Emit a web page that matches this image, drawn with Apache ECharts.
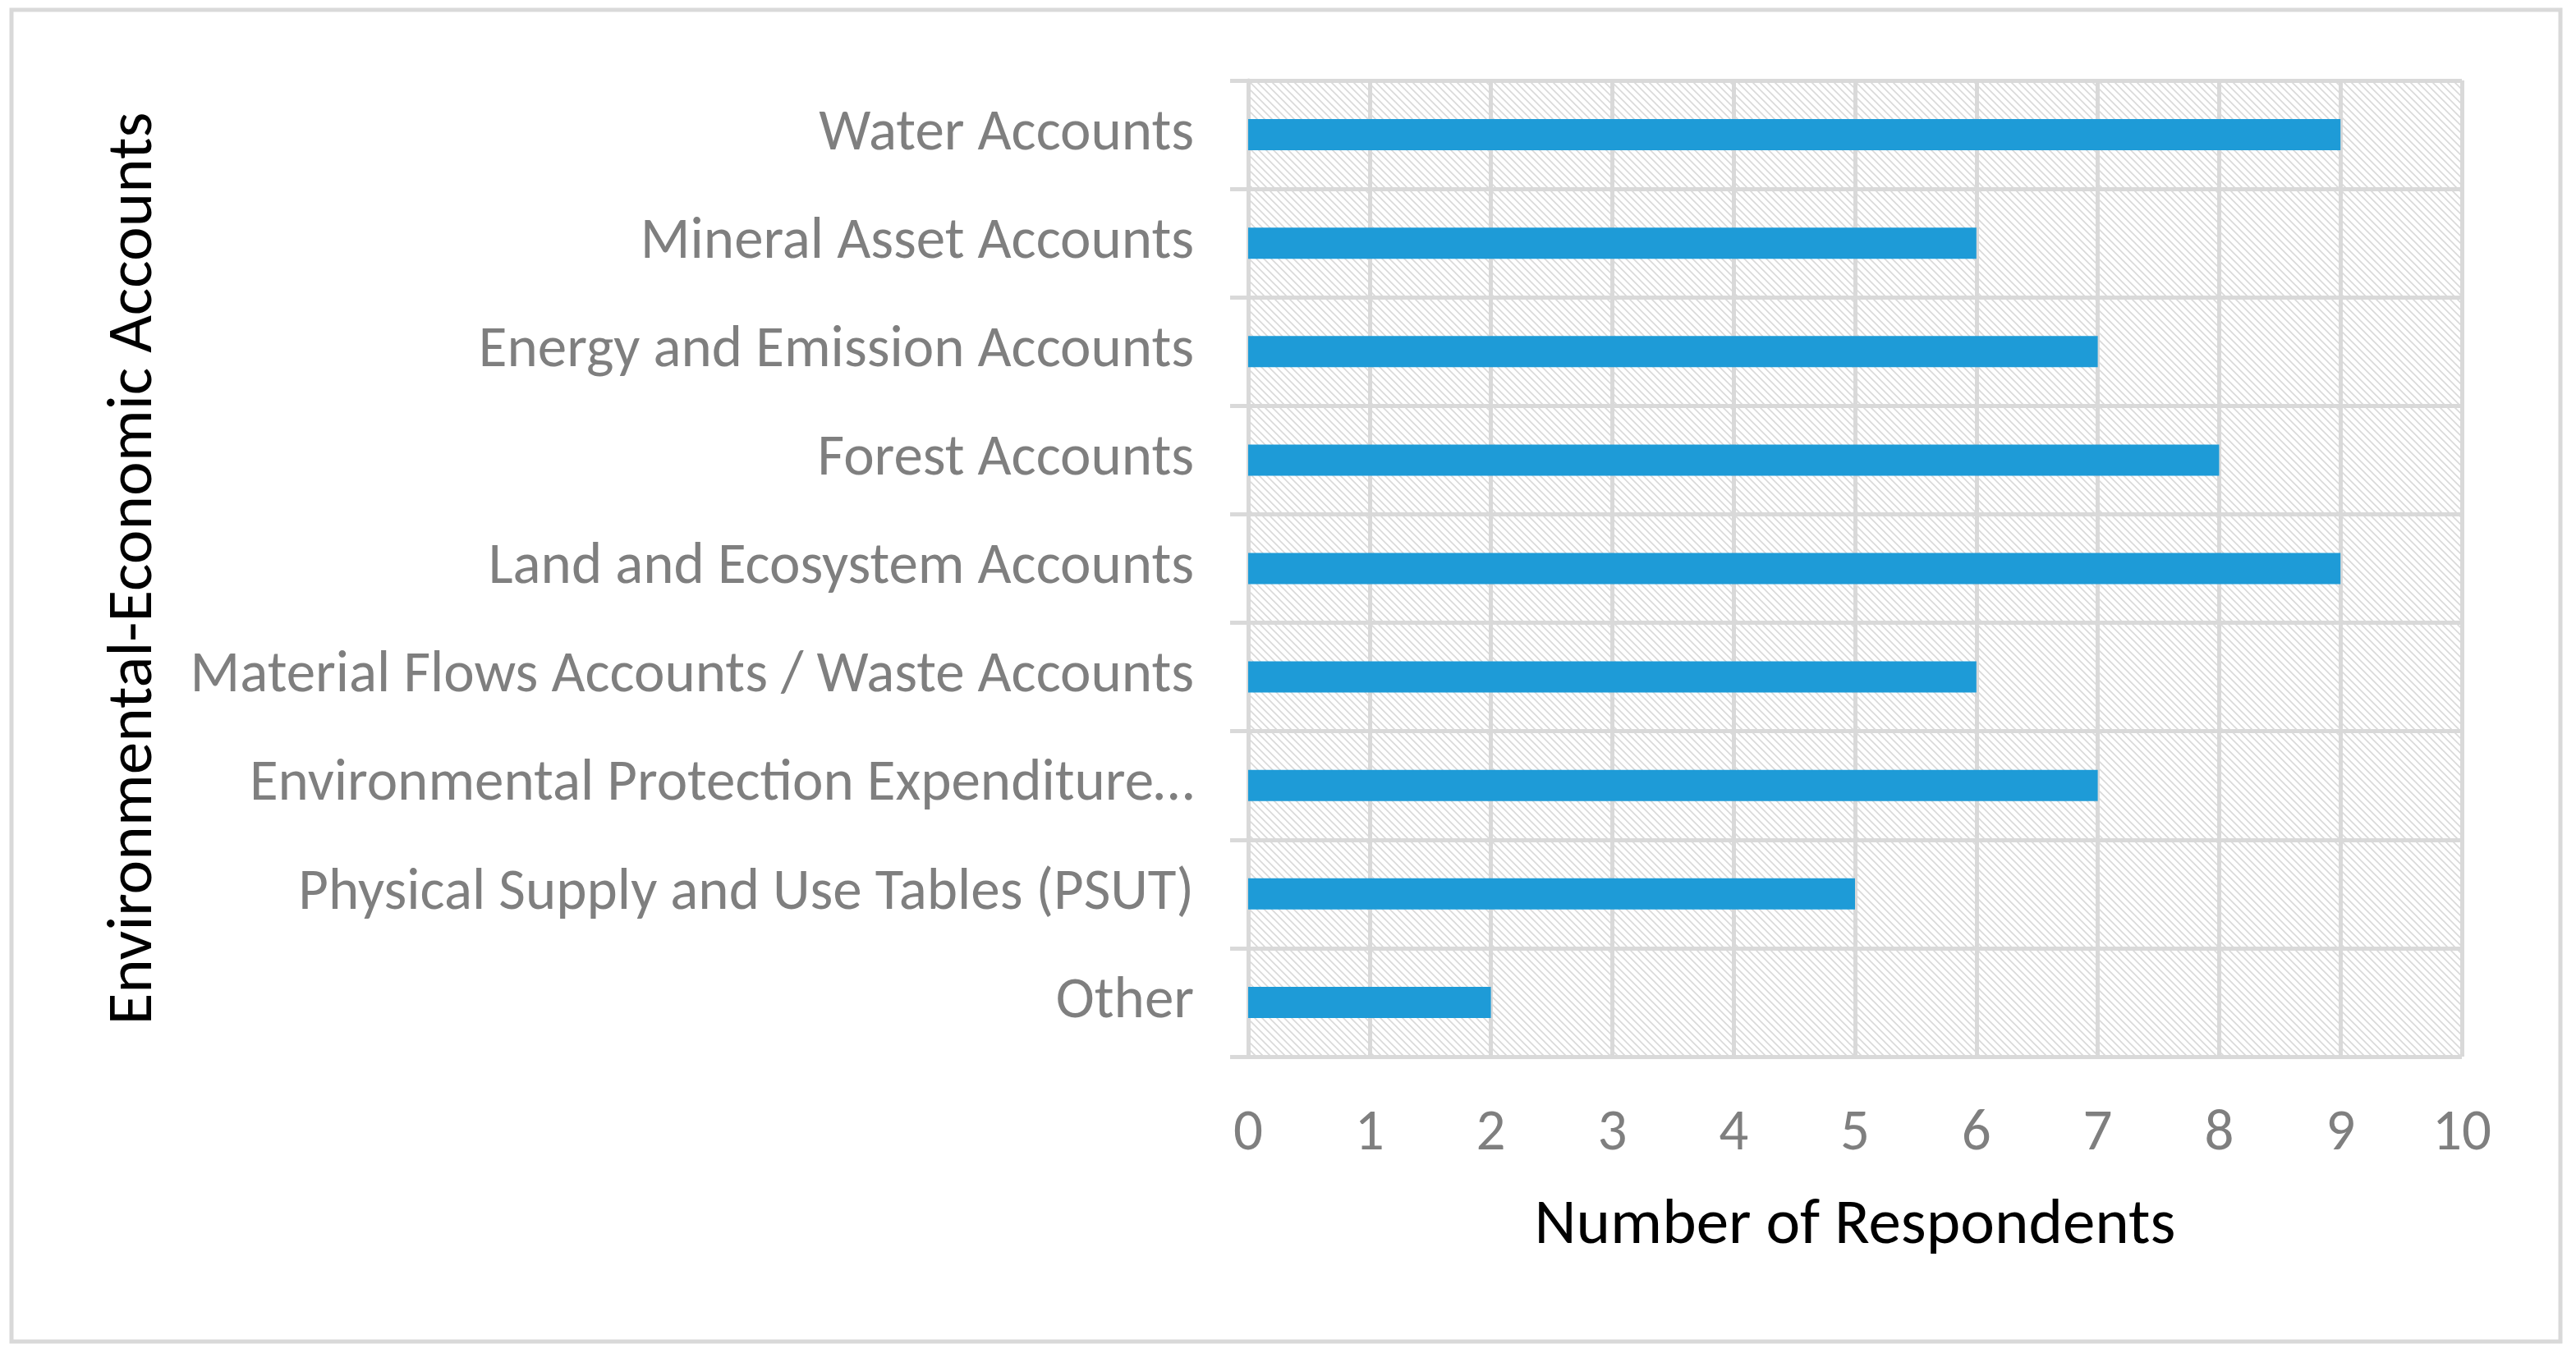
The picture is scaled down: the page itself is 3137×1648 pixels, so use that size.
<!DOCTYPE html>
<html>
<head>
<meta charset="utf-8">
<script src="https://cdn.jsdelivr.net/npm/echarts@6/dist/echarts.min.js"></script>
<style>
  html, body { margin: 0; padding: 0; background: #fff; }
  #chart { width: 3137px; height: 1648px; }
</style>
</head>
<body>
<div id="chart"></div>
<script>
const categories = [
  'Water Accounts',
  'Mineral Asset Accounts',
  'Energy and Emission Accounts',
  'Forest Accounts',
  'Land and Ecosystem Accounts',
  'Material Flows Accounts / Waste Accounts',
  'Environmental Protection Expenditure…',
  'Physical Supply and Use Tables (PSUT)',
  'Other'
]
const respondents = [9, 6, 7, 8, 9, 6, 7, 5, 2]
const xTicks = { min: 0, max: 10, interval: 1 }

const gridGray = '#d9d9d9'
const labelGray = '#7f7f7f'
const font = 'Carlito, Lato, sans-serif'

// light diagonal hatch for the plot area
function hatch() {
  const c = document.createElement('canvas')
  c.width = 9
  c.height = 9
  const g = c.getContext('2d')
  g.fillStyle = '#fff'
  g.fillRect(0, 0, 9, 9)
  g.strokeStyle = gridGray
  g.lineWidth = 1.6
  g.beginPath()
  g.moveTo(-2, -2); g.lineTo(11, 11)
  g.moveTo(-11, -2); g.lineTo(2, 11)
  g.moveTo(7, -2); g.lineTo(20, 11)
  g.stroke()
  return c
}

const chart = echarts.init(document.getElementById('chart'))
chart.setOption({
  animation: false,
  textStyle: { fontFamily: font },
  graphic: [{
    type: 'rect',
    shape: { x: 14, y: 12, width: 3104, height: 1622 },
    style: { fill: 'none', stroke: gridGray, lineWidth: 5 },
    silent: true,
    z: -10
  }],
  grid: {
    left: 1520, right: 139, top: 98, bottom: 361,
    show: true,
    borderWidth: 0,
    backgroundColor: { image: hatch(), repeat: 'repeat' },
    outerBoundsMode: 'none'
  },
  xAxis: {
    type: 'value',
    min: xTicks.min,
    max: xTicks.max,
    interval: xTicks.interval,
    name: 'Number of Respondents',
    nameLocation: 'middle',
    nameGap: 168,
    nameTextStyle: { color: '#000', fontSize: 79, fontFamily: font },
    axisLine: { show: false },
    axisTick: { show: false },
    axisLabel: { color: labelGray, fontSize: 71, margin: 60, fontFamily: font },
    splitLine: { show: true, lineStyle: { color: gridGray, width: 5 } }
  },
  yAxis: {
    type: 'category',
    inverse: true,
    data: categories,
    name: 'Environmental-Economic Accounts',
    nameLocation: 'middle',
    nameGap: 1316,
    nameTextStyle: { color: '#000', fontSize: 79, fontFamily: font },
    axisLine: { show: true, lineStyle: { color: gridGray, width: 5 } },
    axisTick: { show: true, length: 22, lineStyle: { color: gridGray, width: 5 } },
    axisLabel: { color: labelGray, fontSize: 71, margin: 66, padding: [6, 0, 0, 0], fontFamily: font },
    splitLine: { show: true, lineStyle: { color: gridGray, width: 5 } }
  },
  series: [{
    type: 'bar',
    data: respondents,
    barWidth: 38,
    itemStyle: { color: '#1e9bd7' }
  }]
})
</script>
</body>
</html>
